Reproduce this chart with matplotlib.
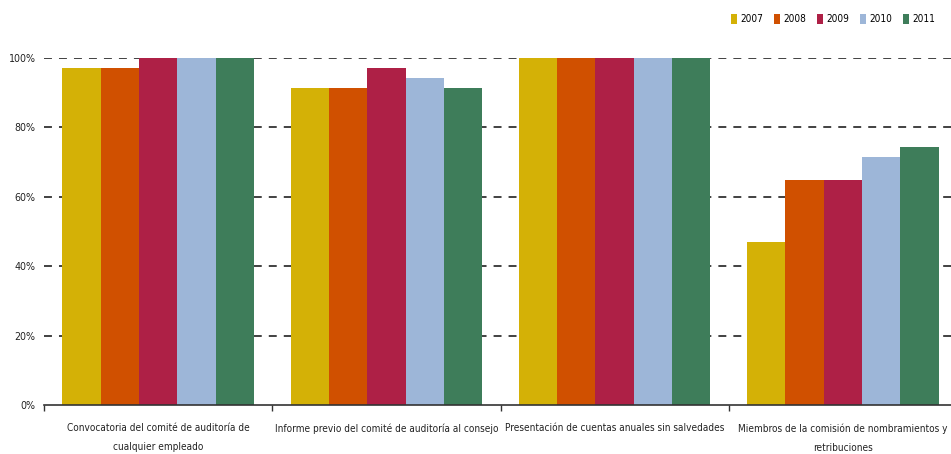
import matplotlib
matplotlib.use("Agg")
import matplotlib.pyplot as plt
from matplotlib.patches import Patch
from matplotlib.font_manager import FontProperties, fontManager
import numpy as np

categories = [
    "Convocatoria del comité de auditoría de\ncualquier empleado",
    "Informe previo del comité de auditoría al consejo",
    "Presentación de cuentas anuales sin salvedades",
    "Miembros de la comisión de nombramientos y\nretribuciones",
]
years = ["2007", "2008", "2009", "2010", "2011"]
v2007 = [97.1, 91.4, 100.0, 47.1]
v2008 = [97.1, 91.4, 100.0, 64.7]
v2009 = [100.0, 97.1, 100.0, 64.7]
v2010 = [100.0, 94.3, 100.0, 71.4]
v2011 = [100.0, 91.4, 100.0, 74.3]
series = [v2007, v2008, v2009, v2010, v2011]
colors = ["#D4B106", "#D05000", "#AE2046", "#9DB6D8", "#3E7D5A"]
yticks = [0, 20, 40, 60, 80, 100]

# pick a condensed font if one is installed
cands = []
for f in fontManager.ttflist:
    nm = f.name.lower()
    fn = f.fname.lower()
    cond = ("condensed" in nm or "narrow" in nm or "condensed" in fn or "narrow" in fn
            or f.stretch in ("condensed", "semi-condensed", "extra-condensed"))
    if cond and f.style == "normal" and ("italic" not in fn):
        w = f.weight if isinstance(f.weight, int) else 400
        score = abs(w - 400) + (0 if "semicondensed" not in fn else 50) + (0 if "extra" not in fn else 100)
        cands.append((score, f.fname))
cands.sort()
if cands:
    fp_base = FontProperties(fname=cands[0][1])
else:
    fp_base = FontProperties(family="Liberation Sans")

W, H = 951, 454
fig = plt.figure(figsize=(W / 100, H / 100), dpi=100)
renderer = fig.canvas.get_renderer()

def measure(s, size):
    fp = fp_base.copy()
    fp.set_size(size)
    t = fig.text(0, 0, s, fontproperties=fp)
    w = t.get_window_extent(renderer).width
    t.remove()
    return w

# size so that the longest one-line label is about as wide as in the reference (~222 px)
lab_size = min(9.5, 10 * 222 / measure("Informe previo del comité de auditoría al consejo", 10))
fp_lab = fp_base.copy(); fp_lab.set_size(lab_size)
fp_tick = fp_base.copy(); fp_tick.set_size(min(9.5, lab_size * 1.05))
leg_size = min(9.5, 10 * 23 / measure("2007", 10))
fp_leg = fp_base.copy(); fp_leg.set_size(leg_size)

left, right, bottom, top = 44, 957, 405, 58
ax = fig.add_axes([left / W, (H - bottom) / H, (right - left) / W, (bottom - top) / H])

n = len(series)
bw = 0.84 / n
centers = np.arange(len(categories)) + 0.5
for i, (vals, c) in enumerate(zip(series, colors)):
    ax.bar(centers + (i - (n - 1) / 2) * bw, vals, width=bw, color=c, zorder=2)

ax.set_xlim(0, len(categories))
ax.set_ylim(0, 100)
ax.set_yticks(yticks)
ax.set_yticklabels([f"{t}%" for t in yticks], fontproperties=fp_tick, color="#222222")
ax.tick_params(axis="y", length=0, pad=6)
for t in yticks[1:]:
    ax.axhline(t, color="#333333", lw=1.3, dashes=(4.4, 3.9), zorder=1)

ax.set_xticks(np.arange(len(categories) + 1))
ax.set_xticklabels([])
ax.tick_params(axis="x", which="major", length=4, width=1, color="#333333", direction="out")
ax.set_xticks(centers, minor=True)
ax.set_xticklabels(categories, minor=True, fontproperties=fp_lab, linespacing=2.15, color="#222222")
ax.tick_params(axis="x", which="minor", length=0, pad=13)

for s in ["left", "right", "top"]:
    ax.spines[s].set_visible(False)
ax.spines["bottom"].set_color("#333333")
ax.spines["bottom"].set_linewidth(1.2)

handles = [Patch(facecolor=c, edgecolor="none") for c in colors]
fig.legend(handles, years, loc="upper right", bbox_to_anchor=(944 / W, 1 - 5 / H), ncol=5,
           frameon=False, handlelength=0.6, handleheight=1.1, handletextpad=0.35,
           columnspacing=1.05, prop=fp_leg, borderaxespad=0.5)

fig.savefig("out.png", dpi=100)
